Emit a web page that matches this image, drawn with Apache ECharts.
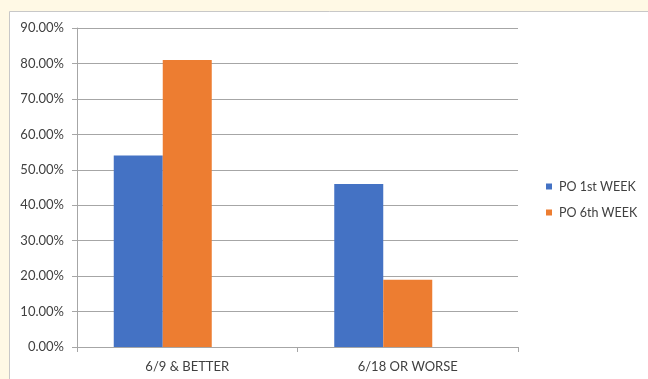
<!DOCTYPE html>
<html>
<head>
<meta charset="utf-8">
<script src="https://cdn.jsdelivr.net/npm/echarts@6/dist/echarts.min.js"></script>
<style>
  html, body { margin: 0; padding: 0; background: #fff9e5; }
  #chart { width: 648px; height: 379px; }
</style>
</head>
<body>
<div id="chart"></div>
<script>
// Share of purchase orders per grade band
const categories = ['6/9 & BETTER', '6/18 OR WORSE'];
const seriesNames = ['PO 1st WEEK', 'PO 6th WEEK'];
const week1 = [0.54, 0.46];
const week6 = [0.81, 0.19];
// third slot in each group is left empty
const emptySlot = ['-', '-'];
const yTicks = { min: 0, max: 0.9, step: 0.1 };

const textColor = '#404040';
const lineColor = '#a6a6a6';
const font = 'Lato, "Open Sans", sans-serif';

const chart = echarts.init(document.getElementById('chart'), null, { renderer: 'canvas' });
chart.setOption({
  backgroundColor: '#fff9e5',
  animation: false,
  graphic: [{
    type: 'rect',
    z: -10,
    shape: { x: 9.5, y: 11.5, width: 660, height: 400 },
    style: { fill: '#ffffff', stroke: '#c8c8c8', lineWidth: 1 }
  }],
  grid: { left: 77, right: 130, top: 28, bottom: 32 },
  legend: {
    orient: 'vertical',
    left: 541,
    top: 175,
    itemWidth: 6,
    itemHeight: 6,
    itemGap: 13,
    icon: 'rect',
    textStyle: { color: textColor, fontSize: 12.5, fontFamily: font, padding: [0, 0, 0, 2] },
    data: seriesNames
  },
  xAxis: {
    type: 'category',
    data: categories,
    axisLine: { lineStyle: { color: lineColor } },
    axisTick: { show: true, length: 5, lineStyle: { color: lineColor } },
    axisLabel: { color: textColor, fontSize: 13, fontFamily: font, margin: 13 }
  },
  yAxis: {
    type: 'value',
    min: yTicks.min,
    max: yTicks.max,
    interval: yTicks.step,
    axisLine: { show: true, lineStyle: { color: lineColor } },
    axisTick: { show: true, length: 5, lineStyle: { color: lineColor } },
    splitLine: { lineStyle: { color: lineColor } },
    axisLabel: {
      color: textColor, fontSize: 13, fontFamily: font, margin: 13,
      formatter: v => (v * 100).toFixed(2) + '%'
    }
  },
  series: [
    { name: seriesNames[0], type: 'bar', data: week1, barWidth: 49, barGap: '0%',
      itemStyle: { color: '#4472c4' } },
    { name: seriesNames[1], type: 'bar', data: week6, barWidth: 49, barGap: '0%',
      itemStyle: { color: '#ed7d31' } },
    { name: 'empty', type: 'bar', data: emptySlot, barWidth: 49, barGap: '0%' }
  ]
});
</script>
</body>
</html>
